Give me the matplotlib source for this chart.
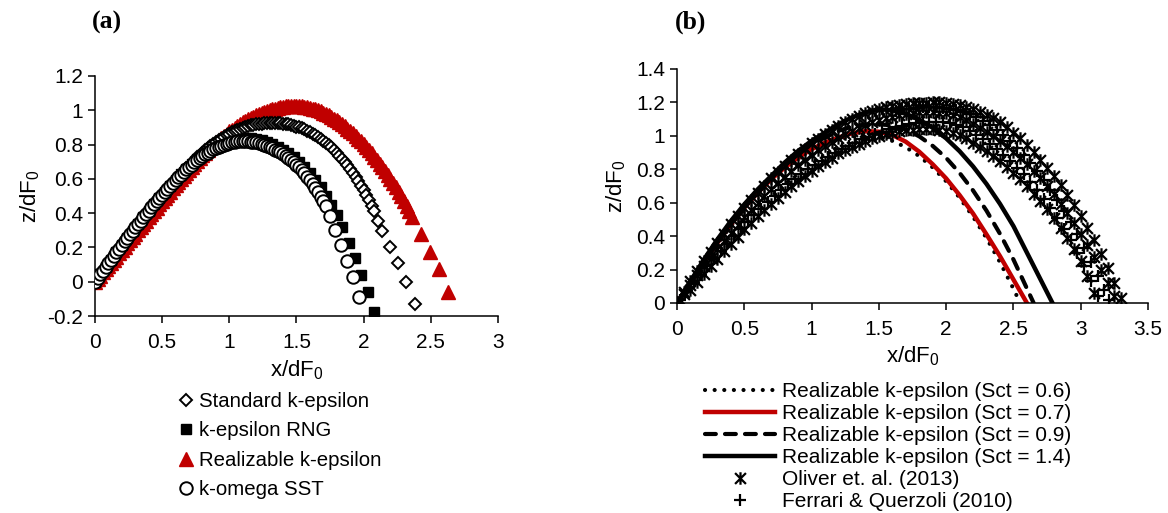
import matplotlib
matplotlib.use('Agg')
import matplotlib.pyplot as plt
from matplotlib.path import Path

plt.rcParams['font.family'] = ['Liberation Sans', 'DejaVu Sans']
plt.rcParams['mathtext.fontset'] = 'custom'
plt.rcParams['mathtext.rm'] = 'Liberation Sans'

# ================= Panel (a) data: (x/dF0, z/dF0) points =================
std_pts = [(0.00, 0.000), (0.04, 0.043), (0.08, 0.086), (0.12, 0.129), (0.16, 0.171), (0.20, 0.213),
           (0.24, 0.254), (0.28, 0.295), (0.32, 0.335), (0.36, 0.374), (0.40, 0.413), (0.44, 0.451),
           (0.48, 0.488), (0.52, 0.525), (0.56, 0.561), (0.60, 0.596), (0.64, 0.630), (0.68, 0.663),
           (0.72, 0.695), (0.76, 0.725), (0.80, 0.753), (0.82, 0.766), (0.84, 0.779), (0.86, 0.791),
           (0.88, 0.803), (0.90, 0.814), (0.92, 0.825), (0.94, 0.835), (0.96, 0.845), (0.98, 0.854),
           (1.00, 0.863), (1.02, 0.8705), (1.04, 0.878), (1.06, 0.8845), (1.08, 0.891), (1.10, 0.8965),
           (1.12, 0.902), (1.14, 0.9065), (1.16, 0.911), (1.18, 0.9145), (1.20, 0.918), (1.22, 0.920),
           (1.24, 0.922), (1.26, 0.9235), (1.28, 0.925), (1.30, 0.9255), (1.32, 0.926), (1.34, 0.9255),
           (1.36, 0.925), (1.38, 0.9235), (1.40, 0.922), (1.42, 0.9195), (1.44, 0.917), (1.46, 0.9135),
           (1.48, 0.910), (1.50, 0.905), (1.52, 0.900), (1.54, 0.894), (1.56, 0.888), (1.58, 0.8805),
           (1.60, 0.873), (1.62, 0.864), (1.64, 0.855), (1.66, 0.8445), (1.68, 0.834), (1.70, 0.822),
           (1.72, 0.810), (1.74, 0.7965), (1.76, 0.783), (1.78, 0.7675), (1.80, 0.752), (1.82, 0.7345),
           (1.84, 0.717), (1.86, 0.6975), (1.88, 0.678), (1.90, 0.656), (1.92, 0.634), (1.94, 0.610),
           (1.96, 0.586), (1.98, 0.5595), (2.00, 0.533), (2.02, 0.504), (2.04, 0.475), (2.06, 0.4425),
           (2.08, 0.410), (2.11, 0.355), (2.14, 0.298), (2.196, 0.204), (2.256, 0.107), (2.317, -0.004),
           (2.38, -0.128)]

rng_pts = [(0.00, 0.000), (0.04, 0.043), (0.08, 0.086), (0.12, 0.129), (0.16, 0.172), (0.20, 0.214),
           (0.24, 0.255), (0.28, 0.296), (0.32, 0.336), (0.36, 0.375), (0.40, 0.413), (0.44, 0.451),
           (0.48, 0.488), (0.52, 0.524), (0.56, 0.559), (0.60, 0.593), (0.64, 0.626), (0.68, 0.657),
           (0.72, 0.686), (0.76, 0.713), (0.80, 0.738), (0.84, 0.760), (0.88, 0.780), (0.92, 0.797),
           (0.96, 0.811), (1.00, 0.822), (1.04, 0.830), (1.08, 0.835), (1.12, 0.837), (1.16, 0.836),
           (1.20, 0.832), (1.24, 0.825), (1.28, 0.815), (1.32, 0.802), (1.36, 0.786), (1.40, 0.770),
           (1.44, 0.750), (1.48, 0.727), (1.52, 0.700), (1.56, 0.670), (1.60, 0.635), (1.64, 0.595),
           (1.68, 0.550), (1.72, 0.500), (1.76, 0.450), (1.80, 0.390), (1.84, 0.320), (1.89, 0.225),
           (1.935, 0.140), (1.98, 0.040), (2.03, -0.062), (2.08, -0.175)]

rea_pts = [(0.00, 0.000), (0.02, 0.018), (0.04, 0.036), (0.06, 0.0545), (0.08, 0.073), (0.10, 0.0915),
           (0.12, 0.110), (0.14, 0.1285), (0.16, 0.147), (0.18, 0.166), (0.20, 0.185), (0.22, 0.204),
           (0.24, 0.223), (0.26, 0.242), (0.28, 0.261), (0.30, 0.280), (0.32, 0.299), (0.34, 0.318),
           (0.36, 0.337), (0.38, 0.356), (0.40, 0.375), (0.42, 0.394), (0.44, 0.413), (0.46, 0.432),
           (0.48, 0.451), (0.50, 0.470), (0.52, 0.489), (0.54, 0.5075), (0.56, 0.526), (0.58, 0.5445),
           (0.60, 0.563), (0.62, 0.581), (0.64, 0.599), (0.66, 0.617), (0.68, 0.635), (0.70, 0.6525),
           (0.72, 0.670), (0.74, 0.687), (0.76, 0.704), (0.78, 0.7205), (0.80, 0.737), (0.82, 0.7525),
           (0.84, 0.768), (0.86, 0.783), (0.88, 0.798), (0.90, 0.812), (0.92, 0.826), (0.94, 0.839),
           (0.96, 0.852), (0.98, 0.864), (1.00, 0.876), (1.02, 0.887), (1.04, 0.898), (1.06, 0.9085),
           (1.08, 0.919), (1.10, 0.9285), (1.12, 0.938), (1.14, 0.9465), (1.16, 0.955), (1.18, 0.9625),
           (1.20, 0.970), (1.22, 0.977), (1.24, 0.984), (1.26, 0.990), (1.28, 0.996), (1.30, 1.001),
           (1.32, 1.006), (1.34, 1.010), (1.36, 1.014), (1.38, 1.017), (1.40, 1.020), (1.42, 1.022),
           (1.44, 1.024), (1.46, 1.0245), (1.48, 1.025), (1.50, 1.0245), (1.52, 1.024), (1.54, 1.022),
           (1.56, 1.020), (1.58, 1.017), (1.60, 1.014), (1.62, 1.0095), (1.64, 1.005), (1.66, 0.999),
           (1.68, 0.993), (1.70, 0.9855), (1.72, 0.978), (1.74, 0.9695), (1.76, 0.961), (1.78, 0.951),
           (1.80, 0.941), (1.82, 0.9295), (1.84, 0.918), (1.86, 0.9055), (1.88, 0.893), (1.90, 0.879),
           (1.92, 0.865), (1.94, 0.850), (1.96, 0.835), (1.98, 0.8185), (2.00, 0.802), (2.02, 0.7845),
           (2.04, 0.767), (2.06, 0.748), (2.08, 0.729), (2.10, 0.709), (2.12, 0.689), (2.14, 0.6675),
           (2.16, 0.646), (2.18, 0.623), (2.20, 0.600), (2.22, 0.5755), (2.24, 0.551), (2.26, 0.5245),
           (2.28, 0.498), (2.30, 0.4695), (2.32, 0.441), (2.34, 0.4105), (2.36, 0.380), (2.43, 0.280),
           (2.494, 0.175), (2.563, 0.072), (2.63, -0.062)]

sst_pts = [(0.00, 0.000), (0.02, 0.0215), (0.04, 0.043), (0.06, 0.0645), (0.08, 0.086), (0.10, 0.1075),
           (0.12, 0.129), (0.14, 0.1505), (0.16, 0.172), (0.18, 0.1935), (0.20, 0.215), (0.22, 0.2355),
           (0.24, 0.256), (0.26, 0.2765), (0.28, 0.297), (0.30, 0.317), (0.32, 0.337), (0.34, 0.3565),
           (0.36, 0.376), (0.38, 0.395), (0.40, 0.414), (0.42, 0.433), (0.44, 0.452), (0.46, 0.4705),
           (0.48, 0.489), (0.50, 0.507), (0.52, 0.525), (0.54, 0.542), (0.56, 0.559), (0.58, 0.576),
           (0.60, 0.593), (0.62, 0.609), (0.64, 0.625), (0.66, 0.640), (0.68, 0.655), (0.70, 0.669),
           (0.72, 0.683), (0.74, 0.696), (0.76, 0.709), (0.78, 0.7205), (0.80, 0.732), (0.82, 0.7425),
           (0.84, 0.753), (0.86, 0.7625), (0.88, 0.772), (0.90, 0.780), (0.92, 0.788), (0.94, 0.794),
           (0.96, 0.800), (0.98, 0.805), (1.00, 0.810), (1.02, 0.813), (1.04, 0.816), (1.06, 0.818),
           (1.08, 0.820), (1.10, 0.8205), (1.12, 0.820), (1.14, 0.819), (1.16, 0.817), (1.18, 0.8145),
           (1.20, 0.812), (1.22, 0.8075), (1.24, 0.803), (1.26, 0.7975), (1.28, 0.792), (1.30, 0.785),
           (1.32, 0.778), (1.34, 0.770), (1.36, 0.762), (1.38, 0.7535), (1.40, 0.745), (1.42, 0.7335),
           (1.44, 0.722), (1.46, 0.709), (1.48, 0.696), (1.50, 0.681), (1.52, 0.666), (1.54, 0.649),
           (1.56, 0.632), (1.58, 0.612), (1.60, 0.592), (1.62, 0.5695), (1.64, 0.547), (1.66, 0.5215),
           (1.68, 0.496), (1.70, 0.468), (1.72, 0.440), (1.75, 0.385), (1.79, 0.300), (1.83, 0.214),
           (1.874, 0.122), (1.918, 0.025), (1.965, -0.087)]

a_xticks = [0, 0.5, 1, 1.5, 2, 2.5, 3]
a_xticklabels = ['0', '0.5', '1', '1.5', '2', '2.5', '3']
a_yticks = [-0.2, 0, 0.2, 0.4, 0.6, 0.8, 1.0, 1.2]
a_yticklabels = ['-0.2', '0', '0.2', '0.4', '0.6', '0.8', '1', '1.2']

# ================= Panel (b) data =================
sct_x = [0.0, 0.1, 0.2, 0.3, 0.4, 0.5, 0.6, 0.7, 0.8, 0.9, 1.0, 1.1, 1.2, 1.3, 1.4, 1.5,
         1.6, 1.7, 1.8, 1.9, 2.0, 2.1, 2.2, 2.3, 2.4, 2.5]
sct06_y = [0.0, 0.12, 0.24, 0.35, 0.46, 0.56, 0.65, 0.73, 0.80, 0.86, 0.91, 0.95, 0.98, 0.995, 1.0, 0.992,
           0.970, 0.932, 0.879, 0.811, 0.728, 0.630, 0.516, 0.388, 0.244, 0.085]
sct06_end = [2.55, 0.0]
sct07_y = [0.0, 0.12, 0.24, 0.36, 0.47, 0.57, 0.66, 0.74, 0.81, 0.87, 0.92, 0.96, 0.99, 1.015, 1.028, 1.025,
           1.005, 0.965, 0.905, 0.830, 0.745, 0.645, 0.535, 0.410, 0.280, 0.140]
sct07_end = [2.60, 0.0]
sct09_y = [0.0, 0.13, 0.25, 0.37, 0.48, 0.58, 0.67, 0.75, 0.83, 0.89, 0.95, 0.99, 1.03, 1.055, 1.068, 1.07,
           1.062, 1.038, 0.997, 0.940, 0.868, 0.778, 0.673, 0.552, 0.414, 0.260]
sct09_end = [2.65, 0.0]
sct14_y = [0.0, 0.13, 0.26, 0.38, 0.49, 0.59, 0.68, 0.76, 0.84, 0.91, 0.97, 1.02, 1.07, 1.11, 1.14, 1.16,
           1.153, 1.132, 1.097, 1.048, 0.985, 0.908, 0.817, 0.712, 0.593, 0.460]
sct14_end = [2.79, 0.0]

# Oliver et al. (2013): upper, middle and lower edges of the measured band
oliver_pts = [
    (0.00, 0.000), (0.05, 0.065), (0.10, 0.130), (0.15, 0.190), (0.20, 0.250), (0.25, 0.305),
    (0.30, 0.360), (0.35, 0.415), (0.40, 0.470), (0.45, 0.520), (0.50, 0.570), (0.55, 0.615),
    (0.60, 0.660), (0.65, 0.7025), (0.70, 0.745), (0.75, 0.7825), (0.80, 0.820), (0.85, 0.855),
    (0.90, 0.890), (0.95, 0.9225), (1.00, 0.955), (1.05, 0.9825), (1.10, 1.010), (1.15, 1.035),
    (1.20, 1.060), (1.25, 1.080), (1.30, 1.100), (1.35, 1.1175), (1.40, 1.135), (1.45, 1.150),
    (1.50, 1.160), (1.55, 1.170), (1.60, 1.178), (1.65, 1.185), (1.70, 1.190), (1.75, 1.194),
    (1.80, 1.197), (1.85, 1.199), (1.90, 1.200), (1.95, 1.200), (2.00, 1.198), (2.05, 1.193),
    (2.10, 1.185), (2.15, 1.174), (2.20, 1.160), (2.25, 1.144), (2.30, 1.125), (2.35, 1.104),
    (2.40, 1.080), (2.45, 1.052), (2.50, 1.020), (2.55, 0.985), (2.60, 0.945), (2.65, 0.902),
    (2.70, 0.855), (2.75, 0.808), (2.80, 0.760), (2.85, 0.705), (2.90, 0.645), (2.95, 0.585),
    (3.00, 0.520), (3.05, 0.450), (3.10, 0.375), (3.15, 0.295), (3.20, 0.210), (3.25, 0.120),
    (3.30, 0.030),
    (0.00, 0.000), (0.05, 0.055), (0.10, 0.110), (0.15, 0.165), (0.20, 0.220), (0.25, 0.270),
    (0.30, 0.320), (0.35, 0.370), (0.40, 0.420), (0.45, 0.4675), (0.50, 0.515), (0.55, 0.5575),
    (0.60, 0.600), (0.65, 0.640), (0.70, 0.680), (0.75, 0.7175), (0.80, 0.755), (0.85, 0.790),
    (0.90, 0.825), (0.95, 0.855), (1.00, 0.885), (1.05, 0.9125), (1.10, 0.940), (1.15, 0.965),
    (1.20, 0.990), (1.25, 1.010), (1.30, 1.030), (1.35, 1.0475), (1.40, 1.065), (1.45, 1.080),
    (1.50, 1.095), (1.55, 1.105), (1.60, 1.115), (1.65, 1.1225), (1.70, 1.130), (1.75, 1.135),
    (1.80, 1.140), (1.85, 1.140), (1.90, 1.140), (1.95, 1.1375), (2.00, 1.135), (2.05, 1.127),
    (2.10, 1.115), (2.15, 1.095), (2.20, 1.070), (2.25, 1.0475), (2.30, 1.025), (2.35, 0.9975),
    (2.40, 0.970), (2.45, 0.9375), (2.50, 0.905), (2.55, 0.8675), (2.60, 0.830), (2.65, 0.7875),
    (2.70, 0.745), (2.75, 0.6975), (2.80, 0.650), (2.85, 0.595), (2.90, 0.540), (2.95, 0.4775),
    (3.00, 0.415), (3.05, 0.345), (3.10, 0.275), (3.15, 0.1975), (3.20, 0.120), (3.25, 0.040),
    (0.03, 0.010), (0.10, 0.080), (0.15, 0.1275), (0.20, 0.175), (0.25, 0.220), (0.30, 0.265),
    (0.35, 0.310), (0.40, 0.355), (0.45, 0.3975), (0.50, 0.440), (0.55, 0.480), (0.60, 0.520),
    (0.65, 0.5575), (0.70, 0.595), (0.75, 0.630), (0.80, 0.665), (0.85, 0.6975), (0.90, 0.730),
    (0.95, 0.760), (1.00, 0.790), (1.05, 0.8175), (1.10, 0.845), (1.15, 0.870), (1.20, 0.895),
    (1.25, 0.915), (1.30, 0.935), (1.35, 0.9525), (1.40, 0.970), (1.45, 0.985), (1.50, 1.000),
    (1.55, 1.010), (1.60, 1.020), (1.65, 1.0275), (1.70, 1.035), (1.75, 1.0375), (1.80, 1.040),
    (1.85, 1.040), (1.90, 1.040), (1.95, 1.035), (2.00, 1.030), (2.05, 1.020), (2.10, 1.005),
    (2.15, 0.985), (2.20, 0.960), (2.25, 0.935), (2.30, 0.910), (2.35, 0.880), (2.40, 0.850),
    (2.45, 0.815), (2.50, 0.780), (2.55, 0.740), (2.60, 0.700), (2.65, 0.655), (2.70, 0.610),
    (2.75, 0.560), (2.80, 0.510), (2.85, 0.450), (2.90, 0.390), (2.95, 0.320), (3.00, 0.250),
    (3.05, 0.160), (3.10, 0.060)]

# Ferrari & Querzoli (2010)
ferrari_pts = [
    (0.025, 0.02), (0.075, 0.07), (0.125, 0.12), (0.175, 0.17), (0.225, 0.22), (0.275, 0.265),
    (0.325, 0.31), (0.375, 0.355), (0.425, 0.40), (0.475, 0.445), (0.525, 0.485), (0.575, 0.525),
    (0.625, 0.565), (0.675, 0.605), (0.725, 0.64), (0.775, 0.675), (0.825, 0.71), (0.875, 0.74),
    (0.925, 0.77), (0.975, 0.80), (1.025, 0.825), (1.075, 0.85), (1.125, 0.875), (1.175, 0.90),
    (1.225, 0.92), (1.275, 0.94), (1.325, 0.96), (1.375, 0.98), (1.425, 0.995), (1.475, 1.01),
    (1.525, 1.025), (1.575, 1.04), (1.625, 1.05), (1.675, 1.06), (1.725, 1.07), (1.775, 1.075),
    (1.825, 1.08), (1.875, 1.085), (1.925, 1.085), (1.975, 1.08), (2.025, 1.075), (2.075, 1.065),
    (2.125, 1.05), (2.175, 1.03), (2.225, 1.005), (2.275, 0.98), (2.325, 0.95), (2.375, 0.92),
    (2.425, 0.885), (2.475, 0.85), (2.525, 0.81), (2.575, 0.77), (2.625, 0.725), (2.675, 0.675),
    (2.725, 0.625), (2.775, 0.57), (2.825, 0.51), (2.875, 0.445), (2.925, 0.375), (2.975, 0.30),
    (3.025, 0.22), (3.075, 0.13), (3.125, 0.04),
    (1.625, 1.15), (1.675, 1.158), (1.725, 1.163), (1.775, 1.167), (1.825, 1.17), (1.875, 1.17),
    (1.925, 1.17), (1.975, 1.167), (2.025, 1.162), (2.075, 1.155), (2.125, 1.143), (2.175, 1.128),
    (2.225, 1.11), (2.275, 1.09), (2.325, 1.065), (2.375, 1.037), (2.425, 1.005), (2.475, 0.97),
    (2.525, 0.93), (2.575, 0.885), (2.625, 0.838), (2.675, 0.788), (2.725, 0.735), (2.775, 0.678),
    (2.825, 0.617), (2.875, 0.553), (2.925, 0.485), (2.975, 0.41), (3.025, 0.33), (3.075, 0.245),
    (3.125, 0.16), (3.175, 0.075), (3.21, 0.02)]

b_xticks = [0, 0.5, 1, 1.5, 2, 2.5, 3, 3.5]
b_xticklabels = ['0', '0.5', '1', '1.5', '2', '2.5', '3', '3.5']
b_yticks = [0, 0.2, 0.4, 0.6, 0.8, 1.0, 1.2, 1.4]
b_yticklabels = ['0', '0.2', '0.4', '0.6', '0.8', '1', '1.2', '1.4']


def xs(pts):
    return [p[0] for p in pts]


def ys(pts):
    return [p[1] for p in pts]


# ================= Figure =================
RED = '#C00000'
fig = plt.figure(figsize=(11.68, 5.13), dpi=100)
axa = fig.add_axes([0.0813, 0.384, 0.345, 0.468])
axb = fig.add_axes([0.5796, 0.4094, 0.4033, 0.4561])

for ax in (axa, axb):
    ax.spines['top'].set_visible(False)
    ax.spines['right'].set_visible(False)
    ax.spines['left'].set_linewidth(1.1)
    ax.spines['bottom'].set_linewidth(1.1)
    ax.tick_params(direction='out', length=5, width=1.1, labelsize=15, colors='black')
    ax.tick_params(axis='x', pad=7)
    ax.tick_params(axis='y', pad=3.5)

# ---- Panel (a)
h_rea, = axa.plot(xs(rea_pts), ys(rea_pts), ls='none', marker='^', ms=9.5, mfc=RED, mec=RED,
                  zorder=2, label='Realizable k-epsilon')
h_rng, = axa.plot(xs(rng_pts), ys(rng_pts), ls='none', marker='s', ms=7.5, mfc='black', mec='black',
                  zorder=3, label='k-epsilon RNG')
h_std, = axa.plot(xs(std_pts), ys(std_pts), ls='none', marker='D', ms=6.2, mfc='white', mec='black',
                  mew=1.4, zorder=4, label='Standard k-epsilon')
h_sst, = axa.plot(xs(sst_pts), ys(sst_pts), ls='none', marker='o', ms=9, mfc='white', mec='black',
                  mew=1.4, zorder=5, label='k-omega SST')
axa.set_xlim(0, 3)
axa.set_ylim(-0.2, 1.2)
axa.set_xticks(a_xticks)
axa.set_xticklabels(a_xticklabels)
axa.set_yticks(a_yticks)
axa.set_yticklabels(a_yticklabels)
axa.set_xlabel(r'x/dF$_{\mathregular{0}}$', fontsize=16, labelpad=5)
axa.set_ylabel(r'z/dF$_{\mathregular{0}}$', fontsize=16, labelpad=4)

fig.legend(handles=[h_std, h_rng, h_rea, h_sst], loc='upper left',
           bbox_to_anchor=(176 / 1168, 1 - 392 / 513), frameon=False, fontsize=14.7,
           handlelength=1.0, handletextpad=0.14, labelspacing=0.51, borderpad=0, borderaxespad=0)

# ---- Panel (b)
l06, = axb.plot(sct_x + [sct06_end[0]], sct06_y + [sct06_end[1]], color='black', lw=3,
                ls=(0, (0.01, 2.3)), dash_capstyle='round', zorder=2,
                label='Realizable k-epsilon (Sct = 0.6)')
l07, = axb.plot(sct_x + [sct07_end[0]], sct07_y + [sct07_end[1]], color=RED, lw=3.2, zorder=2,
                label='Realizable k-epsilon (Sct = 0.7)')
l09, = axb.plot(sct_x + [sct09_end[0]], sct09_y + [sct09_end[1]], color='black', lw=3,
                ls=(0, (2.6, 2.2)), dash_capstyle='round', zorder=2,
                label='Realizable k-epsilon (Sct = 0.9)')
l14, = axb.plot(sct_x + [sct14_end[0]], sct14_y + [sct14_end[1]], color='black', lw=3.2, zorder=2,
                label='Realizable k-epsilon (Sct = 1.4)')

star = Path([(-1, -1), (1, 1), (-1, 1), (1, -1), (0, -1.15), (0, 1.15)],
            [Path.MOVETO, Path.LINETO, Path.MOVETO, Path.LINETO, Path.MOVETO, Path.LINETO])
m_fq, = axb.plot(xs(ferrari_pts), ys(ferrari_pts), ls='none', marker='+', ms=9, mec='black', mew=1.6,
                 zorder=3, label='Ferrari & Querzoli (2010)')
m_ol, = axb.plot(xs(oliver_pts), ys(oliver_pts), ls='none', marker=star, ms=9, mec='black',
                 mfc='none', mew=1.6, zorder=4, label='Oliver et. al. (2013)')
axb.set_xlim(0, 3.5)
axb.set_ylim(0, 1.4)
axb.set_xticks(b_xticks)
axb.set_xticklabels(b_xticklabels)
axb.set_yticks(b_yticks)
axb.set_yticklabels(b_yticklabels)
axb.set_xlabel(r'x/dF$_{\mathregular{0}}$', fontsize=16, labelpad=4)
axb.set_ylabel(r'z/dF$_{\mathregular{0}}$', fontsize=16, labelpad=6)

fig.legend(handles=[l06, l07, l09, l14, m_ol, m_fq], loc='upper left',
           bbox_to_anchor=(705 / 1168, 1 - 382 / 513), frameon=False, fontsize=15,
           handlelength=3.37, handletextpad=0.34, labelspacing=0.145, borderpad=0, borderaxespad=0)

fig.text(107 / 1168, 1 - 22 / 513, '(a)', fontsize=18.5, fontweight='bold',
         family='Liberation Serif', ha='center', va='center')
fig.text(691 / 1168, 1 - 22 / 513, '(b)', fontsize=18.5, fontweight='bold',
         family='Liberation Serif', ha='center', va='center')

fig.savefig('out.png', dpi=100)
